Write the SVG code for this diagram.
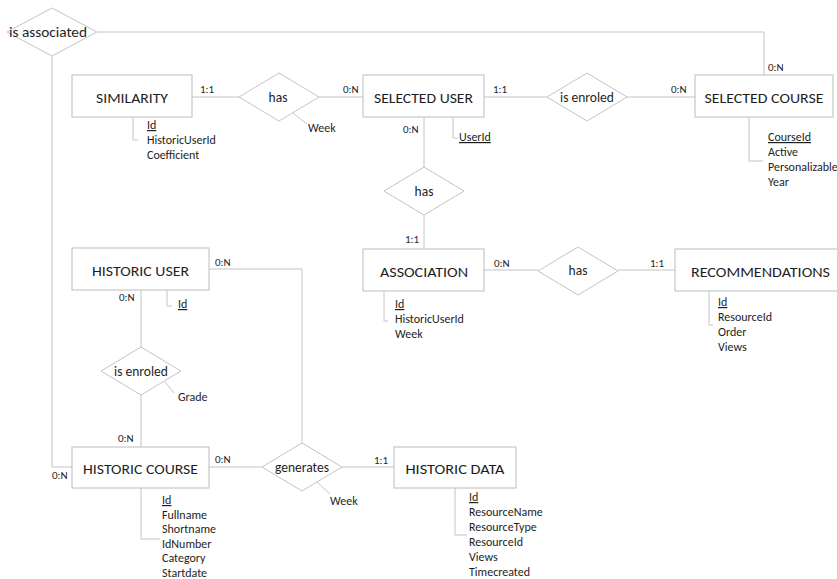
<svg xmlns="http://www.w3.org/2000/svg" width="837" height="579" viewBox="0 0 837 579">
<style>
  .bg{fill:#ffffff}
  .ent{fill:#ffffff;stroke:#bcbcbc;stroke-width:1}
  .rel{fill:#ffffff;stroke:#c4c4c4;stroke-width:1}
  .ln{fill:none;stroke:#c4c4c4;stroke-width:1}
  text{font-family:Carlito,"Liberation Sans",Arial,sans-serif;fill:#1e1e1e;font-weight:normal}
  .t{font-size:15px;text-anchor:middle}
  .r{font-size:13.5px;text-anchor:middle}
  .c{font-size:11px}
  .a{font-size:12px}
  .u{text-decoration:underline}
</style>
<rect class="bg" x="0" y="0" width="837" height="579"/>
<g id="connectors">
  <polyline class="ln" points="97,32 764,32 764,75"/>
  <polyline class="ln" points="52,56 52,467 72,467"/>
  <line class="ln" x1="192" y1="97" x2="239" y2="97"/>
  <line class="ln" x1="319" y1="97" x2="363" y2="97"/>
  <line class="ln" x1="484" y1="97" x2="547" y2="97"/>
  <line class="ln" x1="627" y1="97" x2="695" y2="97"/>
  <line class="ln" x1="424" y1="117" x2="424" y2="167"/>
  <line class="ln" x1="424" y1="215" x2="424" y2="249"/>
  <line class="ln" x1="484" y1="270" x2="538" y2="270"/>
  <line class="ln" x1="618" y1="270" x2="675" y2="270"/>
  <polyline class="ln" points="209,269 302,269 302,443"/>
  <line class="ln" x1="141" y1="290" x2="141" y2="347"/>
  <line class="ln" x1="141" y1="395" x2="141" y2="447"/>
  <line class="ln" x1="209" y1="467" x2="262" y2="467"/>
  <line class="ln" x1="342" y1="467" x2="394" y2="467"/>
  <!-- attribute brackets -->
  <polyline class="ln" points="133,117 133,140 138,140"/>
  <polyline class="ln" points="453,117 453,138 458,138"/>
  <polyline class="ln" points="749,117 749,161 763,161"/>
  <polyline class="ln" points="384,291 384,321 388,321"/>
  <polyline class="ln" points="709,291 709,325 713,325"/>
  <polyline class="ln" points="167,290 167,306 172,306"/>
  <polyline class="ln" points="141,488 141,539 160,539"/>
  <polyline class="ln" points="455,488 455,535 467,535"/>
  <line class="ln" x1="293" y1="113" x2="307" y2="124"/>
  <line class="ln" x1="165" y1="382" x2="174" y2="393"/>
  <line class="ln" x1="317" y1="482" x2="330" y2="494"/>
  <!-- cardinalities -->
  <text class="c" x="200" y="93">1:1</text>
  <text class="c" x="343" y="93">0:N</text>
  <text class="c" x="493" y="93">1:1</text>
  <text class="c" x="671" y="93">0:N</text>
  <text class="c" x="768" y="71">0:N</text>
  <text class="c" x="403" y="133">0:N</text>
  <text class="c" x="405" y="243">1:1</text>
  <text class="c" x="494" y="267">0:N</text>
  <text class="c" x="650" y="267">1:1</text>
  <text class="c" x="215" y="266">0:N</text>
  <text class="c" x="119" y="301">0:N</text>
  <text class="c" x="118" y="442">0:N</text>
  <text class="c" x="215" y="463">0:N</text>
  <text class="c" x="374" y="464">1:1</text>
  <text class="c" x="52" y="479">0:N</text>
</g>
<g id="rel-is-associated">
  <polygon class="rel" points="7,32 52,8 97,32 52,56"/>
  <text class="r" x="48" y="37" textLength="78" lengthAdjust="spacingAndGlyphs">is associated</text>
</g>
<g id="rel-has-similarity">
  <polygon class="rel" points="239,97 279,73 319,97 279,121"/>
  <text class="r" x="278" y="102">has</text>
  <text class="a" x="308" y="132">Week</text>
</g>
<g id="rel-is-enroled-selected">
  <polygon class="rel" points="547,97 587,73 627,97 587,121"/>
  <text class="r" x="587" y="102">is enroled</text>
</g>
<g id="rel-has-association">
  <polygon class="rel" points="384,191 424,167 464,191 424,215"/>
  <text class="r" x="424" y="196">has</text>
</g>
<g id="rel-has-recommendations">
  <polygon class="rel" points="538,271 578,247 618,271 578,295"/>
  <text class="r" x="578" y="275">has</text>
</g>
<g id="rel-is-enroled-historic">
  <polygon class="rel" points="101,371 141,347 181,371 141,395"/>
  <text class="r" x="141" y="376">is enroled</text>
  <text class="a" x="178" y="401">Grade</text>
</g>
<g id="rel-generates">
  <polygon class="rel" points="262,467 302,443 342,467 302,491"/>
  <text class="r" x="302" y="472">generates</text>
  <text class="a" x="330" y="505">Week</text>
</g>
<g id="similarity">
  <rect class="ent" x="72" y="75" width="120" height="42"/>
  <text class="t" x="132" y="103" textLength="72" lengthAdjust="spacingAndGlyphs">SIMILARITY</text>
  <text class="a u" x="147" y="129">Id</text>
  <text class="a" x="147" y="144">HistoricUserId</text>
  <text class="a" x="147" y="159">Coefficient</text>
</g>
<g id="selected-user">
  <rect class="ent" x="363" y="75" width="121" height="42"/>
  <text class="t" x="423.5" y="103" textLength="99" lengthAdjust="spacingAndGlyphs">SELECTED USER</text>
  <text class="a u" x="459" y="141">UserId</text>
</g>
<g id="selected-course">
  <rect class="ent" x="695" y="75" width="138" height="42"/>
  <text class="t" x="764" y="103" textLength="119" lengthAdjust="spacingAndGlyphs">SELECTED COURSE</text>
  <text class="a u" x="768" y="141">CourseId</text>
  <text class="a" x="768" y="156">Active</text>
  <text class="a" x="768" y="171">Personalizable</text>
  <text class="a" x="768" y="186">Year</text>
</g>
<g id="association">
  <rect class="ent" x="363" y="249" width="121" height="42"/>
  <text class="t" x="424" y="277" textLength="88" lengthAdjust="spacingAndGlyphs">ASSOCIATION</text>
  <text class="a u" x="395" y="308">Id</text>
  <text class="a" x="395" y="323">HistoricUserId</text>
  <text class="a" x="395" y="338">Week</text>
</g>
<g id="recommendations">
  <rect class="ent" x="675" y="249" width="171" height="42"/>
  <text class="t" x="760.5" y="277" textLength="139" lengthAdjust="spacingAndGlyphs">RECOMMENDATIONS</text>
  <text class="a u" x="718" y="306">Id</text>
  <text class="a" x="718" y="321">ResourceId</text>
  <text class="a" x="718" y="336">Order</text>
  <text class="a" x="718" y="351">Views</text>
</g>
<g id="historic-user">
  <rect class="ent" x="72" y="248" width="137" height="42"/>
  <text class="t" x="140.5" y="276" textLength="97" lengthAdjust="spacingAndGlyphs">HISTORIC USER</text>
  <text class="a u" x="178" y="308">Id</text>
</g>
<g id="historic-course">
  <rect class="ent" x="72" y="447" width="137" height="41"/>
  <text class="t" x="140.5" y="474" textLength="115" lengthAdjust="spacingAndGlyphs">HISTORIC COURSE</text>
  <text class="a u" x="162" y="504">Id</text>
  <text class="a" x="162" y="518.5">Fullname</text>
  <text class="a" x="162" y="533">Shortname</text>
  <text class="a" x="162" y="547.5">IdNumber</text>
  <text class="a" x="162" y="562">Category</text>
  <text class="a" x="162" y="576.5">Startdate</text>
</g>
<g id="historic-data">
  <rect class="ent" x="394" y="447" width="122" height="41"/>
  <text class="t" x="455" y="474" textLength="99" lengthAdjust="spacingAndGlyphs">HISTORIC DATA</text>
  <text class="a u" x="469" y="501">Id</text>
  <text class="a" x="469" y="516">ResourceName</text>
  <text class="a" x="469" y="531">ResourceType</text>
  <text class="a" x="469" y="546">ResourceId</text>
  <text class="a" x="469" y="561">Views</text>
  <text class="a" x="469" y="576">Timecreated</text>
</g>
</svg>
